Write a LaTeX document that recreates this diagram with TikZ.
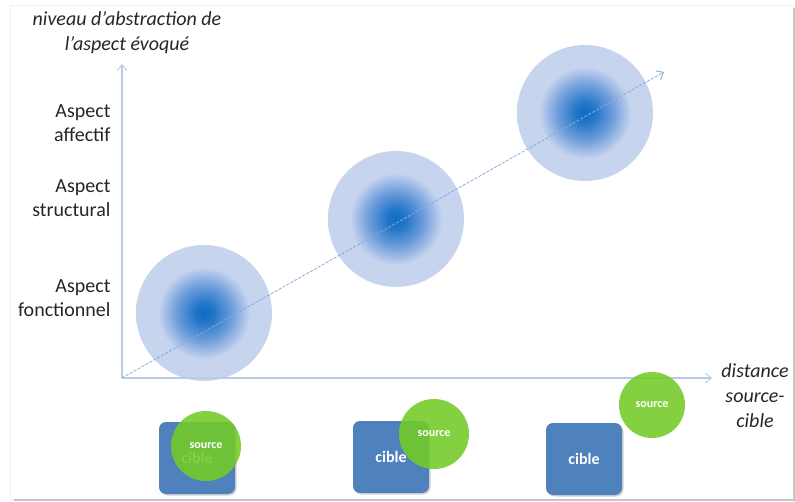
\documentclass[tikz,border=0pt]{standalone}
\usepackage{fontspec}
\setmainfont{Carlito}
\usepackage{xcolor}
\definecolor{AxisBlue}{HTML}{B7CBE6}
\definecolor{TrendBlue}{HTML}{86A9D8}
\definecolor{BlobCore}{HTML}{0F6CC3}
\definecolor{BlobMid}{HTML}{6C9CDB}
\definecolor{BlobPale}{HTML}{C7D4EE}
\definecolor{CibleBlue}{HTML}{4F81BD}
\definecolor{SourceGreen}{HTML}{72CB26}
\definecolor{LabelInk}{HTML}{262626}
\definecolor{FrameLine}{HTML}{EFEFEF}
\definecolor{FrameShade}{HTML}{C6C6C6}
\usetikzlibrary{arrows.meta, shadows, positioning}

\pgfdeclareradialshading{blob}{\pgfpoint{0bp}{0bp}}{%
  color(0bp)=(BlobCore); color(3.5bp)=(BlobCore!80!BlobMid);
  color(10bp)=(BlobMid); color(17bp)=(BlobPale); color(50bp)=(BlobPale)}

\begin{document}
\begin{tikzpicture}[x=1pt, y=-1pt,
  >={Straight Barb[length=6pt, width=10pt, line width=0.9pt]},
  axis/.style={->, AxisBlue, line width=1.6pt},
  trend/.style={->, TrendBlue, line width=0.8pt, dash pattern=on 3pt off 1.5pt},
  blob/.style={circle, shade, shading=blob, minimum size=136pt, inner sep=0pt},
  level/.style={align=right, anchor=east, text=LabelInk,
                font=\fontsize{20}{24}\selectfont},
  axlbl/.style={align=center, text=LabelInk,
                font=\itshape\fontsize{20}{25}\selectfont},
  cible/.style={rectangle, rounded corners=7pt, fill=CibleBlue,
                minimum width=76pt, minimum height=72pt, text=white,
                font=\bfseries\fontsize{16}{16}\selectfont,
                drop shadow={shadow xshift=1.5pt, shadow yshift=-1.5pt, opacity=0.35}},
  source/.style={circle, fill=SourceGreen, fill opacity=0.88, text opacity=1,
                 minimum size=70pt, inner sep=0pt, text=white,
                 font=\bfseries\fontsize{12}{12}\selectfont}
]
\useasboundingbox (0,0) rectangle (795,502);

%% ---- Frame ----
\draw[FrameLine] (10,5) rectangle (793,499);
\draw[FrameShade, line width=2.5pt] (14,500) -- (794,500) -- (794,8);

%% ---- Abstraction blobs ----
\node[blob] (blobF) at (204,313) {};
\node[blob] (blobS) at (396,219) {};
\node[blob] (blobA) at (585,113) {};

%% ---- Axes ----
\coordinate (origin) at (122,378);
\coordinate (ytip)   at (122,64);
\coordinate (xtip)   at (712,378);
\coordinate (ttip)   at (664,72);
\draw[axis] (origin) -- (ytip);
\draw[axis] (origin) -- (xtip);
\draw[trend] (origin) -- (ttip);

%% ---- Axis labels ----
\node[axlbl] (ylbl) at (127,33) {niveau d’abstraction de\\l’aspect évoqué};
\node[axlbl] (xlbl) at (755,396) {distance\\source-\\cible};

\node[level] (lvlA) at (114,123) {Aspect\\affectif};
\node[level] (lvlS) at (114,198) {Aspect\\structural};
\node[level] (lvlF) at (114,298) {Aspect\\fonctionnel};

%% ---- Source / cible pairs ----
\node[cible] (cibleF) at (197,458) {cible};
\node[cible] (cibleS) at (391,457) {cible};
\node[cible] (cibleA) at (584,459) {cible};

\node[source] (sourceF) at (206,446) {source};
\node[source] (sourceS) at (434,434) {source};
\node[source, minimum size=66pt] (sourceA) at (652,405) {source};

\end{tikzpicture}
\end{document}
